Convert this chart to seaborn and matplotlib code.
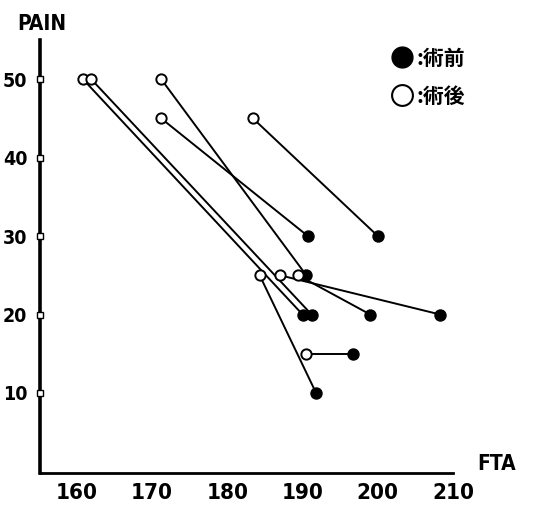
import matplotlib.pyplot as plt
import seaborn as sns
import pandas as pd
from matplotlib.lines import Line2D

# post-op (open) and pre-op (filled) points, one pair per patient
post_fta = [160.8, 161.9, 171.2, 171.2, 183.4, 184.3, 187.0, 189.4, 190.5]
post_pain = [50, 50, 50, 45, 45, 25, 25, 25, 15]
pre_fta = [190.0, 191.2, 190.5, 190.7, 200.0, 191.8, 208.3, 199.0, 196.7]
pre_pain = [20, 20, 25, 30, 30, 10, 20, 20, 15]

x_ticks = [160, 170, 180, 190, 200, 210]
y_ticks = [10, 20, 30, 40, 50]
legend_labels = [":術前", ":術後"]

df = pd.DataFrame({"post_fta": post_fta, "post_pain": post_pain,
                   "pre_fta": pre_fta, "pre_pain": pre_pain})

sns.set_style("white")
plt.rcParams['font.family'] = ['DejaVu Sans']
plt.rcParams['font.stretch'] = 'condensed'
plt.rcParams['text.color'] = 'black'
plt.rcParams['xtick.color'] = 'black'
plt.rcParams['ytick.color'] = 'black'

fig = plt.figure(figsize=(5.42, 5.09), dpi=100)
ax = fig.add_axes([0.0738, 0.0707, 0.762, 0.851])

# connecting lines
for _, r in df.iterrows():
    ax.plot([r.post_fta, r.pre_fta], [r.post_pain, r.pre_pain], color="black", lw=1.4, zorder=2)

sns.scatterplot(data=df, x="pre_fta", y="pre_pain", ax=ax, s=60, color="black",
                edgecolor="black", linewidth=1.2, zorder=3)
sns.scatterplot(data=df, x="post_fta", y="post_pain", ax=ax, s=55, color="white",
                edgecolor="black", linewidth=1.4, zorder=3)

ax.set_xlim(155.1, 210)
ax.set_ylim(-0.2, 55)
ax.set_xlabel("")
ax.set_ylabel("")

for s in ["top", "right"]:
    ax.spines[s].set_visible(False)
ax.spines["left"].set_linewidth(2.6)
ax.spines["bottom"].set_linewidth(2.0)
ax.spines["left"].set_color("black")
ax.spines["bottom"].set_color("black")

ax.set_xticks(x_ticks)
ax.set_xticklabels([str(t) for t in x_ticks], fontsize=16, fontweight="bold")
ax.tick_params(axis="x", direction="out", length=4, width=5, pad=3)
# the 210 position only carries a label
ax.xaxis.get_major_ticks()[-1].tick1line.set_visible(False)

ax.set_yticks(y_ticks)
ax.set_yticklabels([str(t) for t in y_ticks], fontsize=14, fontweight="bold")
ax.tick_params(axis="y", length=0, pad=9)
ax.plot([155.1] * len(y_ticks), y_ticks, "s", ms=4, mfc="white", mec="black",
        mew=1.0, clip_on=False, zorder=4)

fig.text(0.078, 0.953, "PAIN", fontsize=15, fontweight="bold", ha="center", va="center")
fig.text(0.917, 0.088, "FTA", fontsize=15, fontweight="bold", ha="center", va="center")

handles = [Line2D([], [], marker="o", ls="", ms=15, mfc="black", mec="black"),
           Line2D([], [], marker="o", ls="", ms=15, mfc="white", mec="black", mew=1.5)]
leg = ax.legend(handles, legend_labels, loc="upper left", bbox_to_anchor=(0.805, 1.025),
                frameon=False, handlelength=1.0, handletextpad=0.2, labelspacing=0.8,
                prop={"family": ["Noto Sans CJK JP", "DejaVu Sans"], "size": 15,
                      "weight": "bold", "stretch": "normal"})

fig.savefig("out.png", dpi=100)
